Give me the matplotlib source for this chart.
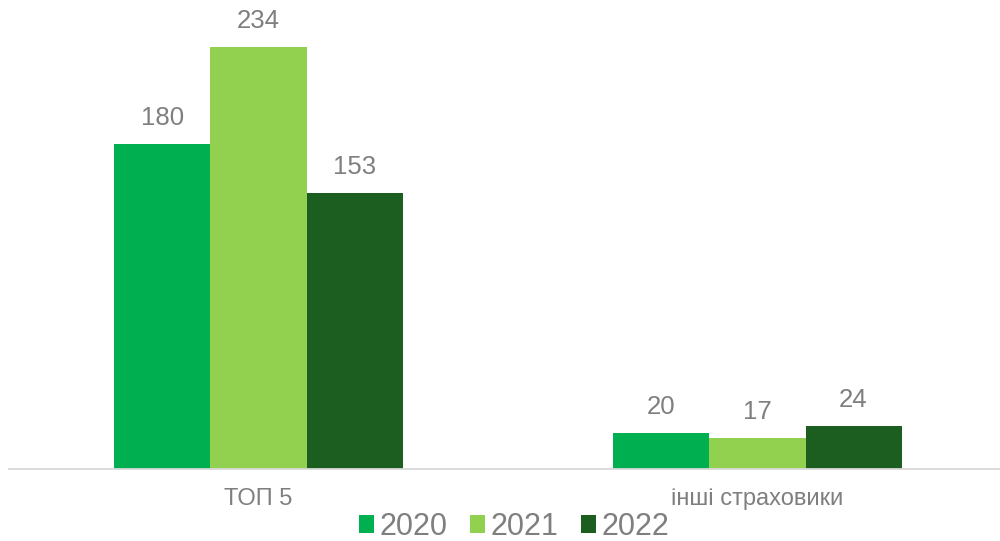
import matplotlib
matplotlib.use("Agg")
import matplotlib.pyplot as plt
import numpy as np

plt.rcParams['font.family'] = ['Liberation Sans', 'DejaVu Sans']

categories = ["ТОП 5", "інші страховики"]
years = ["2020", "2021", "2022"]
values_2020 = [180, 20]
values_2021 = [234, 17]
values_2022 = [153, 24]
series = [values_2020, values_2021, values_2022]
colors = ["#00B050", "#92D050", "#1B5E20"]
text_color = "#7F7F7F"

fig = plt.figure(figsize=(10, 5.41), dpi=100)
ax = fig.add_axes([0.009, 1 - 469 / 541, 0.998, (469 - 18) / 541])

x = np.arange(len(categories))
width = 0.1925
for i, (vals, col, yr) in enumerate(zip(series, colors, years)):
    pos = x + (i - 1) * width
    bars = ax.bar(pos, vals, width=width, color=col, label=yr, zorder=2)
    for b, v in zip(bars, vals):
        ax.annotate(str(v), (b.get_x() + b.get_width() / 2, v),
                    xytext=(0, 10), textcoords="offset points",
                    ha="center", va="bottom", fontsize=18.5, color=text_color)

ax.set_xlim(-0.5, 1.5)
ax.set_ylim(0, 250)
ax.set_yticks([])
ax.set_xticks(x)
ax.set_xticklabels(categories, fontsize=17, color=text_color)
ax.tick_params(axis="x", length=0, pad=14)
for s in ["top", "right", "left"]:
    ax.spines[s].set_visible(False)
ax.spines["bottom"].set_color("#D9D9D9")
ax.spines["bottom"].set_linewidth(1.3)

leg = fig.legend(loc="center", bbox_to_anchor=(0.514, 1 - 527 / 541), ncol=3,
                 frameon=False, fontsize=22, handlelength=0.5, handleheight=0.5,
                 handletextpad=0.17, columnspacing=0.75, borderpad=0.1)
for t in leg.get_texts():
    t.set_color(text_color)

fig.savefig("out.png", dpi=100)
